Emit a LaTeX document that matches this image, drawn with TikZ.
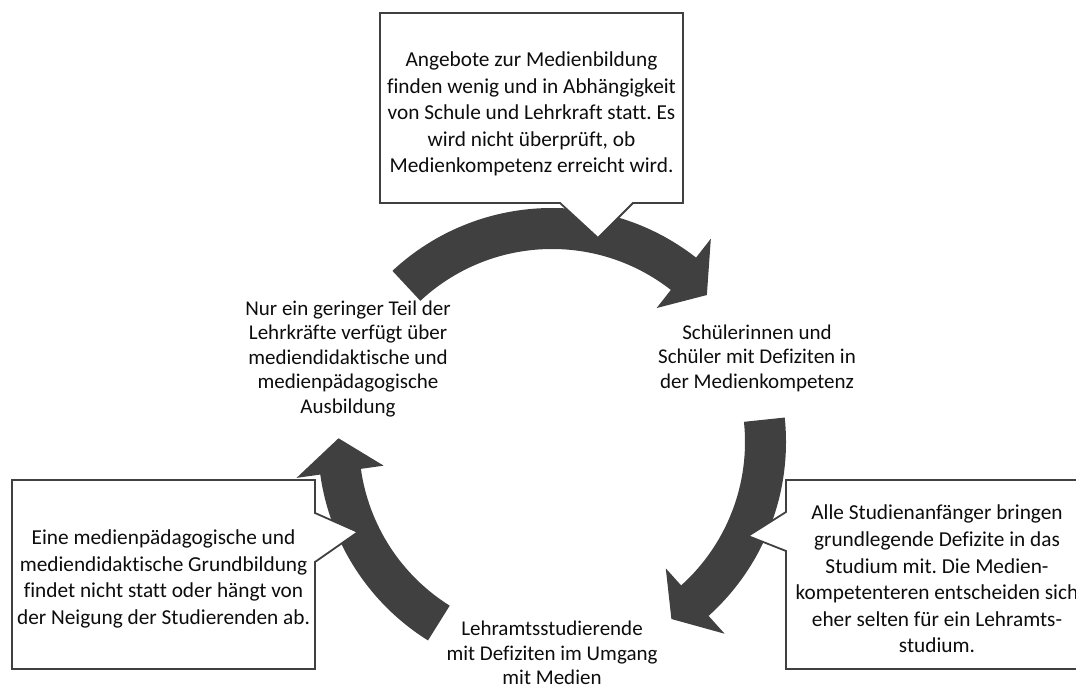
\documentclass[tikz,border=0pt]{standalone}
\usepackage{fontspec}
\setmainfont[Ligatures=NoCommon]{Carlito}
\frenchspacing
\definecolor{arrowgray}{RGB}{64,64,64}
\definecolor{boxgray}{RGB}{64,64,64}
\definecolor{textblack}{RGB}{13,13,13}

% curved cycle arrow around (C): tail angle, head base angle, tip angle
\newcommand\cyclearrow[3]{%
  \fill[arrowfill]
    ([shift={(C)}]#1:234) arc[start angle=#1, end angle=#2, radius=234]
    -- ([shift={(C)}]#2:258)
    -- ([shift={(C)}]#3:213.5)
    -- ([shift={(C)}]#2:170)
    -- ([shift={(C)}]#2:193) arc[start angle=#2, end angle=#1, radius=193]
    -- cycle;}

\begin{document}
\begin{tikzpicture}[x=1pt, y=1pt,
  arrowfill/.style={fill=arrowgray},
  callout/.style={draw=boxgray, line width=1.8pt, fill=white, line join=miter},
  boxtext/.style={align=center, text=textblack, inner sep=0pt,
    font=\fontsize{21.3}{26.6}\selectfont},
  cyclelabel/.style={align=center, text=textblack, inner sep=0pt,
    font=\fontsize{21}{24.5}\selectfont}]
\clip (0,0) rectangle (1076,687);
\coordinate (C) at (552,245);

% the three arrows of the cycle
\cyclearrow{133}{52}{43.5}
\cyclearrow{6}{-48}{-56}
\cyclearrow{238}{188}{179}

% stations of the cycle
\node[cyclelabel] (teachers) at (348,328) {Nur ein geringer Teil der\\Lehrkräfte verfügt über\\mediendidaktische und\\medienpädagogische\\Ausbildung};
\node[cyclelabel] (pupils) at (757,329) {Schülerinnen und\\Schüler mit Defiziten in\\der Medienkompetenz};
\node[cyclelabel] (students) at (552,34) {Lehramtsstudierende\\mit Defiziten im Umgang\\mit Medien};

% callout boxes
\coordinate (toptip) at (598,449);
\coordinate (lefttip) at (358,155);
\coordinate (righttip) at (748,151);
\draw[callout] (380,484) -- (560,484) -- (toptip) -- (633,484) -- (683,484)
  -- (683,674) -- (380,674) -- cycle;
\draw[callout] (12,18) -- (315,18) -- (315,125) -- (lefttip) -- (315,174)
  -- (315,207) -- (12,207) -- cycle;
\draw[callout] (786,18) -- (1090,18) -- (1090,207) -- (786,207) -- (786,175)
  -- (righttip) -- (786,136) -- cycle;

\node[boxtext] (schoolnote) at (531.5,573) {Angebote zur Medienbildung\\finden wenig und in Abhängigkeit\\von Schule und Lehrkraft statt. Es\\wird nicht überprüft, ob\\Medienkompetenz erreicht wird.};
\node[boxtext] (uninote) at (163.5,108) {Eine medienpädagogische und\\mediendidaktische Grundbildung\\findet nicht statt oder hängt von\\der Neigung der Studierenden ab.};
\node[boxtext] (entrynote) at (937,108) {Alle Studienanfänger bringen\\grundlegende Defizite in das\\Studium mit. Die Medien-\\kompetenteren entscheiden sich\\eher selten für ein Lehramts-\\studium.};
\end{tikzpicture}
\end{document}
